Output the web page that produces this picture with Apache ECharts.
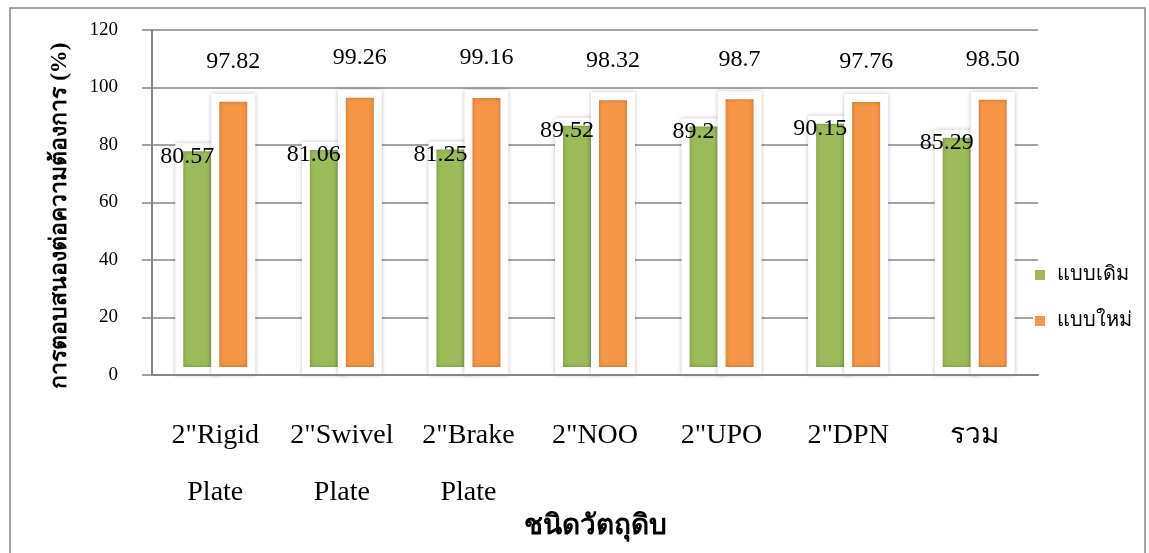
<!DOCTYPE html>
<html>
<head>
<meta charset="utf-8">
<script src="https://cdn.jsdelivr.net/npm/echarts@6/dist/echarts.min.js"></script>
<style>
html,body{margin:0;padding:0;background:#fff;}
#main{width:1149px;height:553px;}
</style>
</head>
<body>
<div id="main"></div>
<script>
var categories = ['2"Rigid\nPlate', '2"Swivel\nPlate', '2"Brake\nPlate', '2"NOO', '2"UPO', '2"DPN', 'รวม'];
var oldValues = [80.57, 81.06, 81.25, 89.52, 89.2, 90.15, 85.29];
var newValues = [97.82, 99.26, 99.16, 98.32, 98.7, 97.76, 98.50];
var oldLabels = ['80.57', '81.06', '81.25', '89.52', '89.2', '90.15', '85.29'];
var newLabels = ['97.82', '99.26', '99.16', '98.32', '98.7', '97.76', '98.50'];
var seriesNames = ['แบบเดิม', 'แบบใหม่'];

var serif = '"Liberation Serif", "Times New Roman", serif';
var gray = '#868686';

var myChart = echarts.init(document.getElementById('main'));
var option = {
    backgroundColor: '#fff',
    textStyle: {fontFamily: serif},
    graphic: [{
        type: 'rect',
        shape: {x: 10, y: 8, width: 1135, height: 560},
        style: {fill: 'none', stroke: gray, lineWidth: 1.5},
        silent: true
    }],
    grid: {left: 152, right: 111, top: 30, bottom: 178, outerBoundsMode: 'none', containLabel: false},
    legend: {
        orient: 'vertical',
        left: 1028,
        top: 260,
        itemWidth: 12,
        itemHeight: 12,
        itemGap: 26,
        icon: 'rect',
        textStyle: {fontSize: 20, color: '#000', fontFamily: serif, padding: [0, 0, 0, 6]},
        data: seriesNames
    },
    xAxis: {
        type: 'category',
        data: categories,
        z: 5,
        name: 'ชนิดวัตถุดิบ',
        nameLocation: 'middle',
        nameGap: 138,
        nameMoveOverlap: false,
        nameTextStyle: {fontSize: 28, fontWeight: 'bold', color: '#000', fontFamily: serif},
        axisLine: {lineStyle: {color: gray, width: 2}},
        axisTick: {show: false},
        axisLabel: {interval: 0, fontSize: 28, color: '#000', lineHeight: 57, margin: 32, fontFamily: serif}
    },
    yAxis: {
        type: 'value',
        min: 0,
        max: 120,
        interval: 20,
        name: 'การตอบสนองต่อความต้องการ (%)',
        nameLocation: 'middle',
        nameGap: 80,
        nameMoveOverlap: false,
        nameTextStyle: {fontSize: 23, fontWeight: 'bold', color: '#000', fontFamily: serif, padding: [0, 26, 0, 0]},
        axisLine: {show: true, lineStyle: {color: gray, width: 2}},
        axisTick: {show: true, length: 10, lineStyle: {color: gray, width: 1.5}},
        splitLine: {lineStyle: {color: gray, width: 1.5}},
        axisLabel: {fontSize: 19, color: '#000', margin: 34, fontFamily: serif}
    },
    series: [{
        name: seriesNames[0],
        type: 'bar',
        data: oldValues,
        barWidth: 44,
        barGap: '-18.18%',
        itemStyle: {
            color: '#9BBB59',
            borderColor: '#fff',
            borderWidth: 8,
            shadowBlur: 4,
            shadowColor: 'rgba(0,0,0,0.25)'
        },
        label: {
            show: true,
            position: 'insideTop',
            offset: [-10, -4],
            fontSize: 24,
            color: '#000',
            fontFamily: serif,
            formatter: function (p) { return oldLabels[p.dataIndex]; }
        }
    }, {
        name: seriesNames[1],
        type: 'bar',
        data: newValues,
        barWidth: 44,
        itemStyle: {
            color: '#F79646',
            borderColor: '#fff',
            borderWidth: 8,
            shadowBlur: 4,
            shadowColor: 'rgba(0,0,0,0.25)'
        },
        label: {
            show: true,
            position: 'top',
            distance: 20,
            fontSize: 24,
            color: '#000',
            fontFamily: serif,
            formatter: function (p) { return newLabels[p.dataIndex]; }
        }
    }]
};
myChart.setOption(option);
</script>
</body>
</html>
